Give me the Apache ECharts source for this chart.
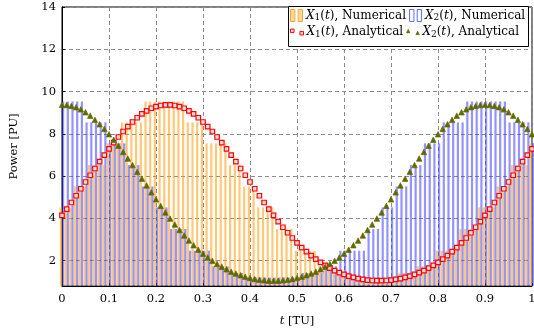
<!DOCTYPE html>
<html>
<head>
<meta charset="utf-8">
<script src="https://cdn.jsdelivr.net/npm/echarts@6/dist/echarts.min.js"></script>
<style>
  html, body { margin: 0; padding: 0; background: #fff; }
  #chart { width: 534px; height: 333px; }
</style>
</head>
<body>
<div id="chart"></div>
<script>
const chart = echarts.init(document.getElementById('chart'));

// sample times
const t = [
  0, 0.01, 0.02, 0.03, 0.04, 0.05, 0.06, 0.07, 0.08, 0.09,
  0.1, 0.11, 0.12, 0.13, 0.14, 0.15, 0.16, 0.17, 0.18, 0.19,
  0.2, 0.21, 0.22, 0.23, 0.24, 0.25, 0.26, 0.27, 0.28, 0.29,
  0.3, 0.31, 0.32, 0.33, 0.34, 0.35, 0.36, 0.37, 0.38, 0.39,
  0.4, 0.41, 0.42, 0.43, 0.44, 0.45, 0.46, 0.47, 0.48, 0.49,
  0.5, 0.51, 0.52, 0.53, 0.54, 0.55, 0.56, 0.57, 0.58, 0.59,
  0.6, 0.61, 0.62, 0.63, 0.64, 0.65, 0.66, 0.67, 0.68, 0.69,
  0.7, 0.71, 0.72, 0.73, 0.74, 0.75, 0.76, 0.77, 0.78, 0.79,
  0.8, 0.81, 0.82, 0.83, 0.84, 0.85, 0.86, 0.87, 0.88, 0.89,
  0.9, 0.91, 0.92, 0.93, 0.94, 0.95, 0.96, 0.97, 0.98, 0.99, 1
];

// X1(t), numerical (bars)
const x1Num = [
  4.52, 4.52, 4.52, 5.51, 5.51, 5.51, 6.52, 6.52, 6.52, 6.52,
  7.55, 7.55, 7.55, 8.54, 8.54, 8.54, 8.54, 8.54, 9.53, 9.53,
  9.53, 9.53, 9.53, 9.53, 9.53, 9.53, 9.53, 8.54, 8.54, 8.54,
  8.54, 7.55, 7.55, 7.55, 7.55, 7.55, 6.52, 6.52, 6.52, 5.51,
  5.51, 5.51, 4.52, 4.52, 4.52, 4.52, 3.50, 3.50, 3.50, 3.50,
  2.47, 2.47, 2.47, 2.47, 2.47, 1.73, 1.73, 1.73, 1.42, 1.42,
  1.42, 1.20, 1.20, 1.20, 1.20, 1.20, 1.20, 1.20, 1.20, 1.20,
  1.20, 1.20, 1.42, 1.42, 1.42, 1.42, 1.73, 1.73, 1.73, 1.73,
  2.47, 2.47, 2.47, 2.47, 2.47, 3.50, 3.50, 3.50, 3.50, 4.52,
  4.52, 4.52, 4.52, 5.51, 5.51, 5.51, 6.52, 6.52, 6.52, 6.52, 7.55
];

// X2(t), numerical (bars)
const x2Num = [
  9.53, 9.53, 9.53, 9.53, 9.53, 8.54, 8.54, 8.54, 8.54, 8.54,
  7.55, 7.55, 7.55, 7.55, 6.52, 6.52, 6.52, 5.51, 5.51, 5.51,
  4.52, 4.52, 4.52, 3.50, 3.50, 3.50, 3.50, 2.47, 2.47, 2.47,
  2.47, 2.47, 1.73, 1.73, 1.73, 1.73, 1.42, 1.42, 1.42, 1.20,
  1.20, 1.20, 1.20, 1.20, 1.20, 1.20, 1.20, 1.20, 1.20, 1.20,
  1.20, 1.42, 1.42, 1.42, 1.42, 1.42, 1.73, 1.73, 1.73, 2.47,
  2.47, 2.47, 2.47, 2.47, 2.47, 3.50, 3.50, 3.50, 4.52, 4.52,
  4.52, 5.51, 5.51, 5.51, 6.52, 6.52, 6.52, 7.55, 7.55, 7.55,
  7.55, 8.54, 8.54, 8.54, 8.54, 8.54, 9.53, 9.53, 9.53, 9.53,
  9.53, 9.53, 9.53, 9.53, 9.53, 8.54, 8.54, 8.54, 8.54, 8.54, 7.55
];

// X1(t), analytical (squares)
const x1Ana = [
  4.14, 4.44, 4.75, 5.07, 5.40, 5.72, 6.04, 6.36, 6.68, 6.99,
  7.29, 7.58, 7.85, 8.11, 8.34, 8.56, 8.76, 8.94, 9.09, 9.21,
  9.29, 9.34, 9.37, 9.37, 9.34, 9.29, 9.21, 9.09, 8.94, 8.76,
  8.56, 8.34, 8.11, 7.85, 7.58, 7.29, 6.99, 6.68, 6.36, 6.04,
  5.72, 5.40, 5.07, 4.75, 4.44, 4.14, 3.85, 3.58, 3.32, 3.07,
  2.84, 2.62, 2.43, 2.24, 2.07, 1.92, 1.78, 1.65, 1.53, 1.43,
  1.35, 1.27, 1.21, 1.15, 1.11, 1.08, 1.06, 1.05, 1.05, 1.06,
  1.08, 1.11, 1.15, 1.21, 1.27, 1.35, 1.43, 1.53, 1.65, 1.78,
  1.92, 2.07, 2.24, 2.43, 2.62, 2.84, 3.07, 3.32, 3.58, 3.85,
  4.14, 4.44, 4.75, 5.07, 5.40, 5.72, 6.04, 6.36, 6.68, 6.99, 7.29
];

// X2(t), analytical (triangles)
const x2Ana = [
  9.37, 9.36, 9.32, 9.26, 9.16, 9.02, 8.86, 8.66, 8.45, 8.23,
  7.98, 7.72, 7.44, 7.14, 6.83, 6.52, 6.20, 5.88, 5.56, 5.23,
  4.90, 4.59, 4.28, 3.99, 3.71, 3.45, 3.19, 2.95, 2.73, 2.52,
  2.33, 2.15, 1.99, 1.84, 1.71, 1.59, 1.48, 1.39, 1.31, 1.24,
  1.18, 1.13, 1.09, 1.07, 1.05, 1.05, 1.05, 1.07, 1.09, 1.13,
  1.18, 1.24, 1.31, 1.39, 1.48, 1.59, 1.71, 1.84, 1.99, 2.15,
  2.33, 2.52, 2.73, 2.95, 3.19, 3.45, 3.71, 3.99, 4.28, 4.59,
  4.90, 5.23, 5.56, 5.88, 6.20, 6.52, 6.83, 7.14, 7.44, 7.72,
  7.98, 8.23, 8.45, 8.66, 8.86, 9.02, 9.16, 9.26, 9.32, 9.36,
  9.37, 9.36, 9.32, 9.26, 9.16, 9.02, 8.86, 8.66, 8.45, 8.23, 7.98
];

const yTicks = [2, 4, 6, 8, 10, 12, 14];

const FONT = 'DejaVu Serif';
const pair = (ys) => ys.map((v, i) => [t[i], v]);

const legendNames = {
  x1n: '{i|X}{s|1}{n|(}{i|t}{n|), Numerical}',
  x2n: '{i|X}{s|2}{n|(}{i|t}{n|), Numerical}',
  x1a: '{i|X}{s|1}{n|(}{i|t}{n|), Analytical}',
  x2a: '{i|X}{s|2}{n|(}{i|t}{n|), Analytical}'
};
const rich = {
  n: { fontFamily: FONT, fontSize: 11.5, color: '#000', lineHeight: 14 },
  i: { fontFamily: FONT, fontSize: 11.5, fontStyle: 'italic', color: '#000', lineHeight: 14 },
  s: { fontFamily: FONT, fontSize: 8.5, color: '#000', verticalAlign: 'bottom', lineHeight: 10 }
};
const legendRich = {
  n: Object.assign({}, rich.n, { fontSize: 12 }),
  i: Object.assign({}, rich.i, { fontSize: 12 }),
  s: Object.assign({}, rich.s, { fontSize: 9 })
};
const legendBase = {
  orient: 'horizontal',
  padding: 0,
  itemGap: 3,
  formatter: (name) => legendNames[name],
  textStyle: { fontFamily: FONT, fontSize: 12, color: '#000', rich: legendRich, padding: [0, 0, 0, -2] },
  selectedMode: false
};

const option = {
  animation: false,
  grid: {
    left: 62, right: 2, top: 7, bottom: 47,
    outerBoundsMode: 'none',
    containLabel: false,
    show: true, borderColor: '#000', borderWidth: 1, backgroundColor: 'transparent'
  },
  graphic: [{
    type: 'rect', z: 3,
    shape: { x: 288.5, y: 6.5, width: 240, height: 40 },
    style: { fill: '#fff', stroke: '#000', lineWidth: 1 }
  }],
  legend: [
    Object.assign({}, legendBase, {
      left: 290, top: 9,
      itemWidth: 13, itemHeight: 12,
      data: [
        { name: 'x1n', icon: 'path://M0,0H4V11H0ZM7,0H11V11H7Z',
          itemStyle: { color: '#ffd9a0', borderColor: '#ffa733', borderWidth: 1 } },
        { name: 'x2n', icon: 'path://M0,0H4V11H0ZM7,0H11V11H7Z',
          itemStyle: { color: '#ffffff', borderColor: '#6666ff', borderWidth: 1 } }
      ]
    }),
    Object.assign({}, legendBase, {
      left: 290, top: 26,
      itemWidth: 13, itemHeight: 6,
      data: [
        { name: 'x1a', icon: 'path://M0,0H3V3H0ZM8,2H11V5H8Z',
          itemStyle: { color: '#ffd6d6', borderColor: '#ff0000', borderWidth: 1 } },
        { name: 'x2a', icon: 'path://M1.5,0L3,3H0ZM9.5,1.5L11,4.5H8Z',
          itemStyle: { color: '#3d7a00', borderColor: '#8b5a00', borderWidth: 0.6 } }
      ]
    })
  ],
  xAxis: {
    type: 'value',
    min: 0, max: 1, interval: 0.1,
    name: '{i|t} [TU]',
    nameLocation: 'middle',
    nameGap: 28,
    nameTextStyle: { fontFamily: FONT, fontSize: 11.5, color: '#000', rich: rich },
    axisLine: { show: true, lineStyle: { color: '#000', width: 1 } },
    axisTick: { show: true, inside: true, length: 3, lineStyle: { color: '#000' } },
    axisLabel: { fontFamily: FONT, fontSize: 11.5, color: '#000', margin: 7 },
    splitLine: { show: true, lineStyle: { color: '#8c8c8c', width: 1, type: [4, 3] } }
  },
  yAxis: {
    type: 'value',
    min: 0.8, max: 14,
    name: 'Power [PU]',
    nameLocation: 'middle',
    nameGap: 42,
    nameTextStyle: { fontFamily: FONT, fontSize: 11.5, color: '#000' },
    axisLine: { show: true, lineStyle: { color: '#000', width: 1 } },
    axisTick: { show: true, inside: true, length: 3, customValues: yTicks, lineStyle: { color: '#000' } },
    axisLabel: { fontFamily: FONT, fontSize: 11.5, color: '#000', margin: 6, customValues: yTicks },
    splitLine: { show: true, lineStyle: { color: '#8c8c8c', width: 1, type: [4, 3] } }
  },
  series: [
    {
      name: 'x1n', type: 'bar',
      data: pair(x1Num),
      barWidth: 2.2, barGap: '0%',
      itemStyle: { color: 'rgba(255,160,20,0.58)' },
      z: 1
    },
    {
      name: 'x2n', type: 'bar',
      data: pair(x2Num),
      barWidth: 2.2, barGap: '0%',
      itemStyle: { color: 'rgba(60,60,255,0.55)' },
      z: 1
    },
    {
      name: 'x1a', type: 'scatter',
      data: pair(x1Ana),
      symbol: 'rect', symbolSize: 4.5,
      itemStyle: { color: '#ffdede', borderColor: '#ff0000', borderWidth: 1.2, opacity: 1 },
      z: 2
    },
    {
      name: 'x2a', type: 'scatter',
      data: pair(x2Ana),
      symbol: 'triangle', symbolSize: 5.5,
      itemStyle: { color: '#3d7a00', borderColor: '#8b5a00', borderWidth: 0.7, opacity: 1 },
      z: 2
    }
  ]
};

chart.setOption(option);
window.addEventListener('resize', function () { chart.resize(); });
</script>
</body>
</html>
